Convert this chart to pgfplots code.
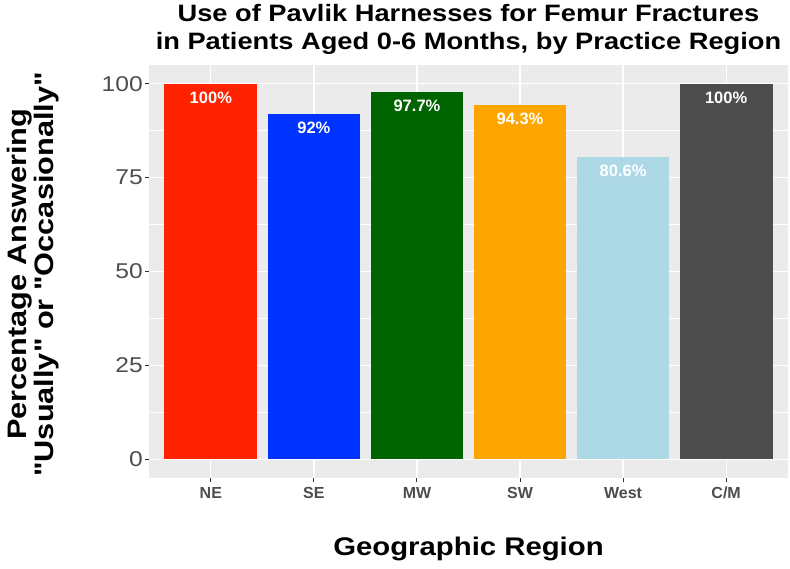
\documentclass[border=0pt]{standalone}
\usepackage{pgfplots}
\pgfplotsset{compat=1.18}
\usepackage{fontspec}
\setmainfont{Liberation Sans}
\newfontfamily\widefont[FakeStretch=1.15]{Liberation Sans}

\definecolor{panelbg}{HTML}{EBEBEB}
\definecolor{ticktxt}{HTML}{4D4D4D}
\definecolor{tickln}{HTML}{333333}
\definecolor{cNE}{HTML}{FF2200}
\definecolor{cSE}{HTML}{0033FF}
\definecolor{cMW}{HTML}{006400}
\definecolor{cSW}{HTML}{FFA500}
\definecolor{cWest}{HTML}{ADD8E6}
\definecolor{cCM}{HTML}{4D4D4D}

\begin{document}
\begin{tikzpicture}
\useasboundingbox (-149pt,-91pt) rectangle (641pt,478pt);
\begin{axis}[
    scale only axis,
    width=639pt, height=413pt,
    xmin=0.4, xmax=6.6,
    ymin=-5, ymax=105,
    xtick={1,2,3,4,5,6},
    xticklabels={NE, SE, MW, SW, West, C/M},
    ytick={0,25,50,75,100},
    minor ytick={12.5,37.5,62.5,87.5},
    grid=both,
    major grid style={white, line width=1.3pt},
    minor grid style={white, line width=0.6pt},
    axis background/.style={fill=panelbg},
    axis line style={draw=none},
    tick align=outside,
    major tick length=4pt,
    minor tick length=0pt,
    tick style={tickln, line width=1pt},
    xtick pos=bottom, ytick pos=left,
    yticklabel style={font=\widefont\fontsize{21.4}{22}\selectfont, text=ticktxt, inner sep=1pt, xshift=-1pt},
    xticklabel style={font=\bfseries\fontsize{16}{16}\selectfont, text=ticktxt, inner sep=1pt, yshift=-4pt},
    /pgf/number format/assume math mode=true,
    ybar, bar width=0.9, bar shift=0pt,
    point meta=explicit symbolic,
    nodes near coords,
    nodes near coords style={anchor=base, yshift=-19.5pt, text=white,
        font=\bfseries\fontsize{16.5}{16}\selectfont, inner sep=0pt},
    title={Use of Pavlik Harnesses for Femur Fractures\\in Patients Aged 0-6 Months, by Practice Region},
    title style={at={(axis description cs:0.5,1)}, anchor=south, yshift=4pt,
        inner sep=0pt, align=center, font=\widefont\bfseries\fontsize{23.7}{28}\selectfont},
    xlabel={Geographic Region},
    xlabel style={at={(axis description cs:0.5,0)}, anchor=base, yshift=-78pt,
        inner sep=0pt, font=\widefont\bfseries\fontsize{25.5}{26}\selectfont},
    ylabel={Percentage Answering\\"Usually" or "Occasionally"},
    ylabel style={at={(axis description cs:-0.1807,0.493)}, anchor=center,
        inner sep=0pt, align=center, font=\widefont\bfseries\fontsize{26.7}{27}\selectfont},
]
\addplot[fill=cNE, draw=none] coordinates {(1,100) [100\%]};
\addplot[fill=cSE, draw=none] coordinates {(2,92) [92\%]};
\addplot[fill=cMW, draw=none] coordinates {(3,97.7) [97.7\%]};
\addplot[fill=cSW, draw=none] coordinates {(4,94.3) [94.3\%]};
\addplot[fill=cWest, draw=none] coordinates {(5,80.6) [80.6\%]};
\addplot[fill=cCM, draw=none] coordinates {(6,100) [100\%]};
\end{axis}
\end{tikzpicture}
\end{document}
